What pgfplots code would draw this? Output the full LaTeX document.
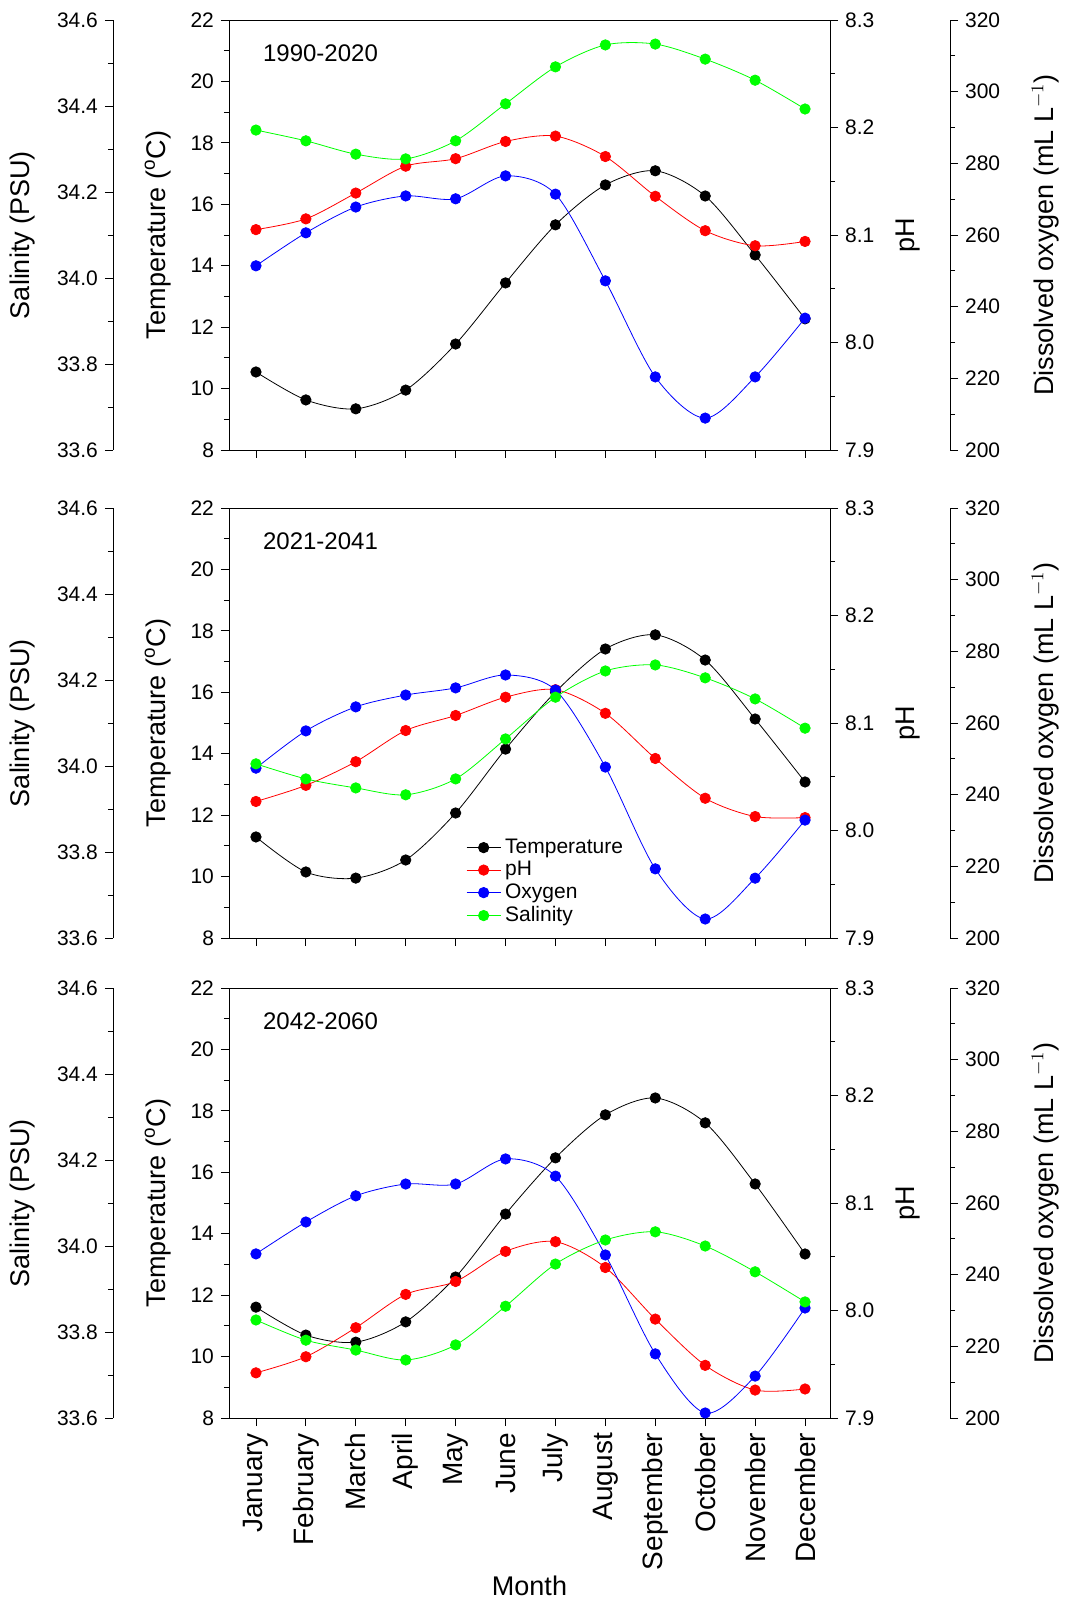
\documentclass[border=0pt]{standalone}
\usepackage{pgfplots}
\pgfplotsset{compat=1.18}
\usepackage{pgfplotstable}
\usepackage{fontspec}
\setmainfont{Liberation Sans}
\pgfplotstableread{
m T pH O S
1 10.54 8.105 251.4 34.344
2 9.63 8.115 260.6 34.319
3 9.34 8.139 267.8 34.288
4 9.95 8.164 270.9 34.277
5 11.45 8.171 270.1 34.319
6 13.44 8.187 276.5 34.405
7 15.33 8.192 271.4 34.491
8 16.63 8.173 247.2 34.542
9 17.09 8.136 220.4 34.544
10 16.27 8.104 208.9 34.509
11 14.35 8.090 220.4 34.460
12 12.27 8.094 236.8 34.393
}\tA
\pgfplotstableread{
m T pH O S
1 11.29 8.027 247.4 34.005
2 10.15 8.042 257.8 33.970
3 9.95 8.064 264.5 33.949
4 10.54 8.093 267.8 33.933
5 12.07 8.107 269.8 33.970
6 14.15 8.124 273.4 34.063
7 16.01 8.131 269.2 34.160
8 17.41 8.109 247.7 34.221
9 17.87 8.067 219.3 34.235
10 17.05 8.030 205.3 34.205
11 15.13 8.013 216.7 34.156
12 13.08 8.012 232.9 34.088
}\tB
\pgfplotstableread{
m T pH O S
1 11.61 7.942 245.8 33.828
2 10.70 7.957 254.7 33.781
3 10.47 7.984 262.0 33.758
4 11.13 8.015 265.3 33.735
5 12.59 8.027 265.3 33.770
6 14.64 8.055 272.3 33.860
7 16.47 8.064 267.5 33.958
8 17.87 8.040 245.5 34.014
9 18.42 7.992 217.9 34.033
10 17.61 7.949 201.4 34.000
11 15.62 7.926 211.7 33.940
12 13.34 7.927 230.7 33.870
}\tC
\pgfplotsset{
  every axis/.append style={width=300.5pt,height=215pt,scale only axis,
    xmin=0.46,xmax=12.5,tick align=outside,
    font=\fontsize{10.5}{12}\selectfont,
    /pgf/number format/assume math mode=true,
    tick style={black,thin}, major tick length=4pt, minor tick length=2.5pt,
    label style={font=\fontsize{13.5}{15}\selectfont}},
  ser/.style={smooth,tension=0.5,thin,mark=*,mark size=2.6pt,mark options={solid}},
}
\newcommand\panel[4]{%
\begin{axis}[at={(0,#2)},ymin=8,ymax=22,ytick={8,10,...,22},minor y tick num=1,
  xtick={1,...,12},xtick pos=bottom,ytick pos=left,
  #4,
  ylabel={Temperature ($^{\mathrm{o}}$C)},ylabel style={yshift=3pt}]
\addplot[ser,black] table[x=m,y=T]{#1};
\node[anchor=west,font=\fontsize{12}{14}\selectfont] at (rel axis cs:0.045,0.923) {#3};
\end{axis}
\begin{axis}[at={(0,#2)},ymin=7.9,ymax=8.3,ytick={7.9,8.0,...,8.3},minor y tick num=1,
  axis y line*=right,axis x line=none,
  yticklabel style={/pgf/number format/.cd,fixed,fixed zerofill,precision=1},
  ylabel={pH},ylabel style={yshift=-4pt}]
\addplot[ser,red] table[x=m,y=pH]{#1};
\end{axis}
\begin{axis}[at={(0,#2)},ymin=200,ymax=320,ytick={200,220,...,320},minor y tick num=1,
  axis y line*=right,axis x line=none,axis y line shift=60pt,
  ylabel={Dissolved oxygen (mL L$^{-1}$)},ylabel style={yshift=-9pt}]
\addplot[ser,blue] table[x=m,y=O]{#1};
\end{axis}
\begin{axis}[at={(0,#2)},ymin=33.6,ymax=34.6,ytick={33.6,33.8,...,34.6},minor y tick num=1,
  axis y line*=left,axis x line=none,axis y line shift=58pt,
  yticklabel style={/pgf/number format/.cd,fixed,fixed zerofill,precision=1},
  ylabel={Salinity (PSU)},ylabel style={yshift=4pt}]
\addplot[ser,green] table[x=m,y=S]{#1};
\end{axis}
}
\begin{document}
\begin{tikzpicture}
\panel{\tA}{0pt}{1990-2020}{xticklabels={}}
\panel{\tB}{-244pt}{2021-2041}{xticklabels={}}
\begin{axis}[at={(0,-244pt)},hide axis,ymin=0,ymax=1,
  legend style={at={(rel axis cs:0.384,0.25)},anchor=north west,draw=none,fill=none,
   font=\fontsize{10.5}{11.5}\selectfont,row sep=-1.5pt},legend cell align=left]
\addlegendimage{ser,black}\addlegendentry{Temperature}
\addlegendimage{ser,red}\addlegendentry{pH}
\addlegendimage{ser,blue}\addlegendentry{Oxygen}
\addlegendimage{ser,green}\addlegendentry{Salinity}
\end{axis}
\panel{\tC}{-484pt}{2042-2060}{xticklabels={January,February,March,April,May,June,July,August,September,October,November,December},
  xticklabel style={rotate=90,anchor=east,font=\fontsize{14}{16}\selectfont},
  xlabel={Month},xlabel style={yshift=4pt}}
\pgfresetboundingbox
\useasboundingbox (-114.5pt,-579.5pt) rectangle (430pt,225pt);
\end{tikzpicture}
\end{document}
